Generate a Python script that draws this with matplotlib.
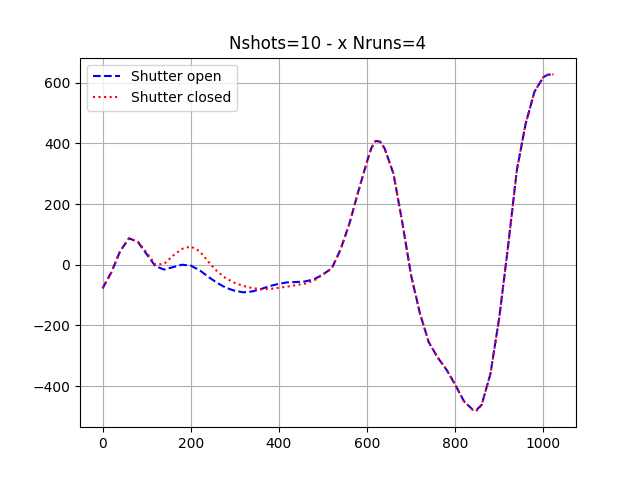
import numpy as np
import matplotlib
matplotlib.use("Agg")
import matplotlib.pyplot as plt

# sample positions
x = [0, 20, 40, 60, 80, 100, 120, 140, 160, 180, 200, 220, 240, 260, 280,
     300, 320, 340, 360, 380, 400, 420, 440, 460, 480, 500, 520, 540, 560,
     580, 600, 610, 620, 630, 640, 660, 680, 700, 720, 740, 760, 780, 800,
     820, 840, 850, 860, 880, 900, 920, 940, 960, 980, 1000, 1010, 1023]

shutter_open = [-78, -25, 45, 87, 75, 35, -5, -16, -8, 0, -3, -18, -40, -60,
                -76, -86, -91, -88, -80, -70, -63, -58, -57, -55, -48, -32,
                -12, 50, 135, 240, 340, 385, 408, 405, 383, 300, 140, -35,
                -160, -255, -305, -345, -395, -450, -478, -476, -462, -360,
                -175, 60, 312, 465, 570, 618, 626, 627]

shutter_closed = [-78, -25, 45, 87, 77, 40, 0, 3, 30, 52, 60, 45, 10, -22,
                  -45, -60, -70, -77, -81, -80, -76, -72, -67, -62, -52, -32,
                  -12, 50, 135, 240, 340, 385, 410, 405, 383, 300, 140, -35,
                  -160, -255, -305, -345, -395, -450, -478, -480, -462, -360,
                  -175, 60, 312, 465, 570, 618, 626, 627]

nshots = 10
nruns = 4

fig, ax = plt.subplots(figsize=(6.4, 4.8), dpi=100)
ax.plot(x, shutter_open, "b--", label="Shutter open")
ax.plot(x, shutter_closed, "r:", label="Shutter closed")
ax.set_title(f"Nshots={nshots} - x Nruns={nruns}")
ax.grid(True)
ax.legend(loc="upper left")

fig.savefig("out.png")
